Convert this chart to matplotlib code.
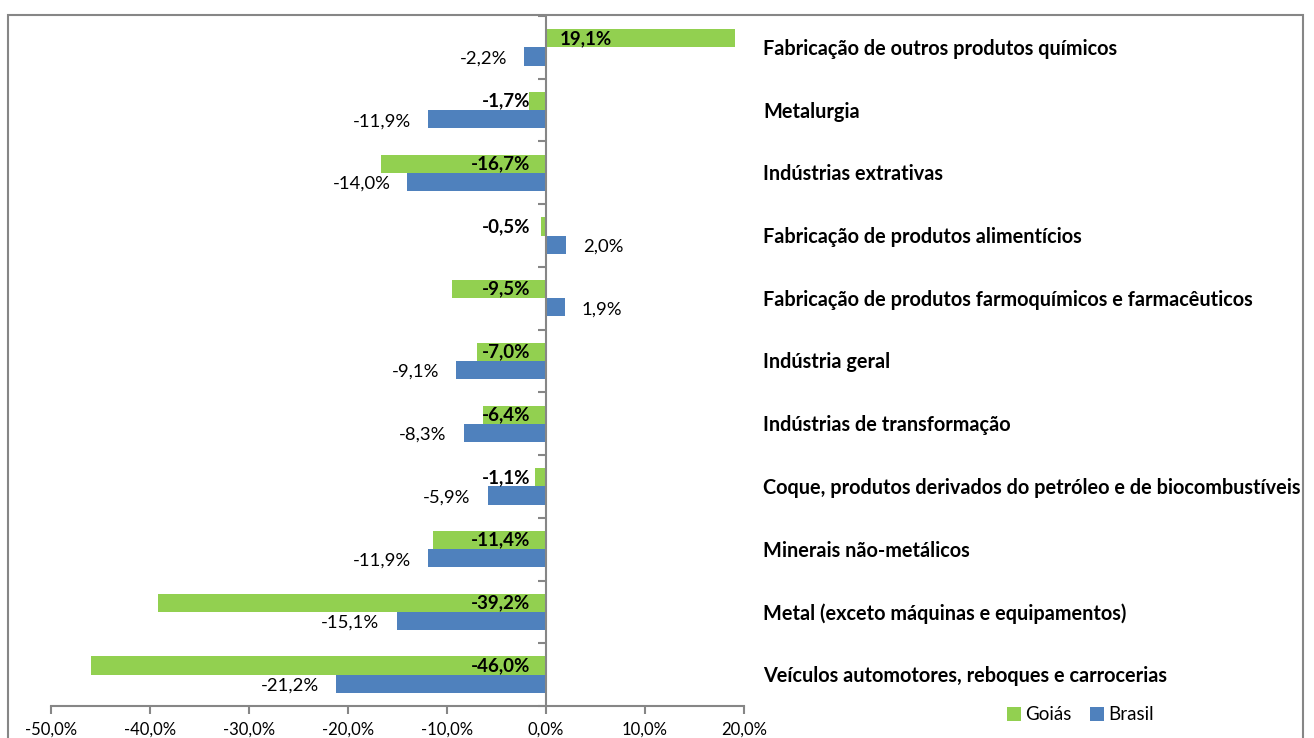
import matplotlib
matplotlib.use("Agg")
import matplotlib.pyplot as plt
from matplotlib.patches import Rectangle, Patch
import numpy as np

categories = [
    "Fabricação de outros produtos químicos",
    "Metalurgia",
    "Indústrias extrativas",
    "Fabricação de produtos alimentícios",
    "Fabricação de produtos farmoquímicos e farmacêuticos",
    "Indústria geral",
    "Indústrias de transformação",
    "Coque, produtos derivados do petróleo e de biocombustíveis",
    "Minerais não-metálicos",
    "Metal (exceto máquinas e equipamentos)",
    "Veículos automotores, reboques e carrocerias",
]
goias = [19.1, -1.7, -16.7, -0.5, -9.5, -7.0, -6.4, -1.1, -11.4, -39.2, -46.0]
brasil = [-2.2, -11.9, -14.0, 2.0, 1.9, -9.1, -8.3, -5.9, -11.9, -15.1, -21.2]
x_ticks = [-50, -40, -30, -20, -10, 0, 10, 20]
series_names = ["Goiás", "Brasil"]

GREEN = "#92D050"
BLUE = "#4F81BD"
AXIS = "#868686"
FONT = "Lato"

plt.rcParams["font.family"] = [FONT, "DejaVu Sans"]

W, H = 1314, 738
fig = plt.figure(figsize=(W / 100, H / 100), dpi=100)
ax = fig.add_axes([51 / W, (H - 706) / H, (744 - 51) / W, (706 - 16) / H])

n = len(categories)
y = np.arange(n)  # 0 at top after inversion
bh = 0.29
ax.barh(y - bh / 2, goias, height=bh, color=GREEN, zorder=2)
ax.barh(y + bh / 2, brasil, height=bh, color=BLUE, zorder=2)

ax.set_xlim(-50, 20)
ax.set_ylim(n - 0.5, -0.5)

def fmt(v):
    return f"{v:.1f}%".replace(".", ",")

# Goiás labels: inside base, bold
for i, v in enumerate(goias):
    if v < 0:
        ax.annotate(fmt(v), xy=(0, i - bh / 2), xytext=(-16, 0), textcoords="offset pixels",
                    ha="right", va="center", fontsize=13.5, fontweight="bold", zorder=3)
    else:
        ax.annotate(fmt(v), xy=(0, i - bh / 2), xytext=(14, 0), textcoords="offset pixels",
                    ha="left", va="center", fontsize=13.5, fontweight="bold", zorder=3)

# Brasil labels: outside end
for i, v in enumerate(brasil):
    if v < 0:
        ax.annotate(fmt(v), xy=(v, i + bh / 2), xytext=(-17, -2), textcoords="offset pixels",
                    ha="right", va="center", fontsize=13.3, zorder=3)
    else:
        ax.annotate(fmt(v), xy=(v, i + bh / 2), xytext=(17, -2), textcoords="offset pixels",
                    ha="left", va="center", fontsize=13.3, zorder=3)

# Category labels at right
for i, c in enumerate(categories):
    ax.annotate(c, xy=(1, i), xycoords=("axes fraction", "data"), xytext=(19, -1.5),
                textcoords="offset pixels", ha="left", va="center", fontsize=14.3,
                fontweight="bold", annotation_clip=False)

# Axes styling
for s in ["top", "right"]:
    ax.spines[s].set_visible(False)
ax.spines["left"].set_position(("data", 0))
ax.spines["left"].set_color(AXIS)
ax.spines["left"].set_linewidth(1.5)
ax.spines["bottom"].set_color(AXIS)
ax.spines["bottom"].set_linewidth(1.5)
ax.spines["left"].set_zorder(4)

ax.set_yticks(np.arange(n + 1) - 0.5)
ax.set_yticklabels([])
ax.tick_params(axis="y", direction="out", length=6, width=1.5, color=AXIS)
ax.set_xticks(x_ticks)
ax.set_xticklabels([fmt(t) for t in x_ticks], fontsize=12)
ax.tick_params(axis="x", direction="out", length=6, width=1.5, color=AXIS, pad=5)
ax.patch.set_alpha(0)

# Chart border
fig.patches.append(Rectangle((8 / W, -0.05), (1303 - 8) / W, (H - 15) / H + 0.05,
                             transform=fig.transFigure, fill=False, edgecolor=AXIS,
                             linewidth=1.5))

handles = [Patch(facecolor=GREEN, label=series_names[0]),
           Patch(facecolor=BLUE, label=series_names[1])]
fig.legend(handles=handles, loc="center left", bbox_to_anchor=(998 / W, (H - 715) / H),
           ncol=2, frameon=False, fontsize=13.5, handlelength=0.75, handleheight=0.75,
           handletextpad=0.2, columnspacing=1.0, borderpad=0)

fig.savefig("out.png", dpi=100)
